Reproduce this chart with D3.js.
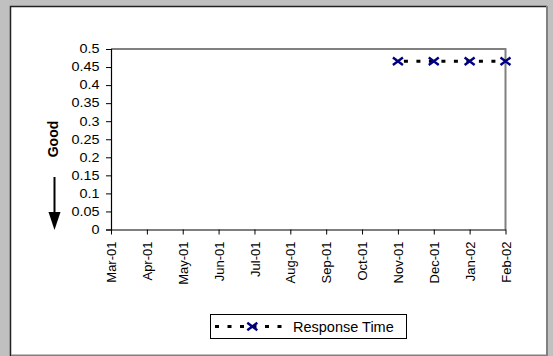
<!DOCTYPE html>
<html><head><meta charset="utf-8">
<script src="https://cdn.jsdelivr.net/npm/d3@7"></script>
<style>html,body{margin:0;padding:0;background:#c0c0c0;}svg{display:block;font-family:"Liberation Sans",Arial,sans-serif;}</style>
</head><body>
<svg id="c" width="553" height="356"></svg>
<script>
const categories = ["Mar-01","Apr-01","May-01","Jun-01","Jul-01","Aug-01","Sep-01","Oct-01","Nov-01","Dec-01","Jan-02","Feb-02"];
const responseTime = [null,null,null,null,null,null,null,null,0.466,0.466,0.466,0.466];
const yTicks = [0,0.05,0.1,0.15,0.2,0.25,0.3,0.35,0.4,0.45,0.5];
const seriesName = "Response Time";
const axisLabel = "Good";

const svg = d3.select("#c");
// panel
svg.append("rect").attr("x",0).attr("y",0).attr("width",553).attr("height",356).attr("fill","#c0c0c0");
svg.append("rect").attr("x",11).attr("y",6).attr("width",536).attr("height",349).attr("fill","#fff");
svg.append("path").attr("d","M10.5,356V6.5H547").attr("fill","none").attr("stroke","#222").attr("stroke-width",1.5);
svg.append("path").attr("d","M547,6V355.5H11").attr("fill","none").attr("stroke","#808080").attr("stroke-width",2);

const x = d3.scalePoint().domain(categories).range([111,505.5]).padding(0);
const y = d3.scaleLinear().domain([0,0.5]).range([229.5,49]);

// plot frame top/right
svg.append("path").attr("d",`M111,${y(0.5)}H${x("Feb-02")}V${y(0)}`).attr("fill","none").attr("stroke","#808080").attr("stroke-width",2);

// y axis
const ya = svg.append("g").attr("transform","translate(111,0)")
  .call(d3.axisLeft(y).tickValues(yTicks).tickSize(5).tickPadding(6).tickFormat(d=>String(d)));
ya.select(".domain").attr("stroke","#000").attr("stroke-width",1.2);
ya.selectAll(".tick line").attr("stroke","#000");
ya.selectAll("text").attr("font-size",12).attr("font-family","Liberation Sans, Arial, sans-serif").attr("fill","#000")
  .attr("x",0).attr("transform","translate(-11.5,0) scale(1.2,1)");

// x axis
const xa = svg.append("g").attr("transform",`translate(0,${y(0)})`)
  .call(d3.axisBottom(x).tickSize(5).tickPadding(8).tickSizeOuter(0));
xa.select(".domain").attr("stroke","#000").attr("stroke-width",1.2);
xa.selectAll(".tick line").attr("stroke","#000");
xa.selectAll("text").attr("font-size",13).attr("font-family","Liberation Sans, Arial, sans-serif").attr("fill","#000")
  .attr("transform","rotate(-90)").attr("text-anchor","end").attr("dy","0.35em").attr("x",-12).attr("y",0);

// series line
const pts = categories.map((c,i)=>({c, v:responseTime[i]}));
const line = d3.line().defined(d=>d.v!=null).x(d=>x(d.c)).y(d=>y(d.v));
svg.append("path").datum(pts).attr("d",line).attr("fill","none").attr("stroke","#000")
  .attr("stroke-width",3).attr("stroke-dasharray","4,8.5").attr("stroke-dashoffset",-6);

function marker(g,cx,cy){
  g.append("path").attr("d",`M${cx-5},${cy-3.8}L${cx+5},${cy+3.8}M${cx-5},${cy+3.8}L${cx+5},${cy-3.8}`)
   .attr("stroke","#000080").attr("stroke-width",2.4).attr("fill","none");
}
pts.filter(d=>d.v!=null).forEach(d=>marker(svg,x(d.c),y(d.v)));

// Good label + arrow
svg.append("text").attr("transform","translate(58,139) rotate(-90)").attr("text-anchor","middle")
  .attr("font-size",14).attr("font-weight","bold").text(axisLabel);
svg.append("line").attr("x1",54.5).attr("x2",54.5).attr("y1",177).attr("y2",214).attr("stroke","#000").attr("stroke-width",2);
svg.append("path").attr("d","M48.5,212L60.5,212L54.5,230Z").attr("fill","#000");

// legend
svg.append("rect").attr("x",210.5).attr("y",314.5).attr("width",196).attr("height",24).attr("fill","#fff").attr("stroke","#000");
svg.append("line").attr("x1",215).attr("x2",289).attr("y1",326.5).attr("y2",326.5).attr("stroke","#000")
  .attr("stroke-width",3).attr("stroke-dasharray","4,8.5");
marker(svg,252.3,326.5);
svg.append("text").attr("x",293).attr("y",326.5).attr("dy","0.36em").attr("font-size",14.5).text(seriesName);
</script>
</body></html>
